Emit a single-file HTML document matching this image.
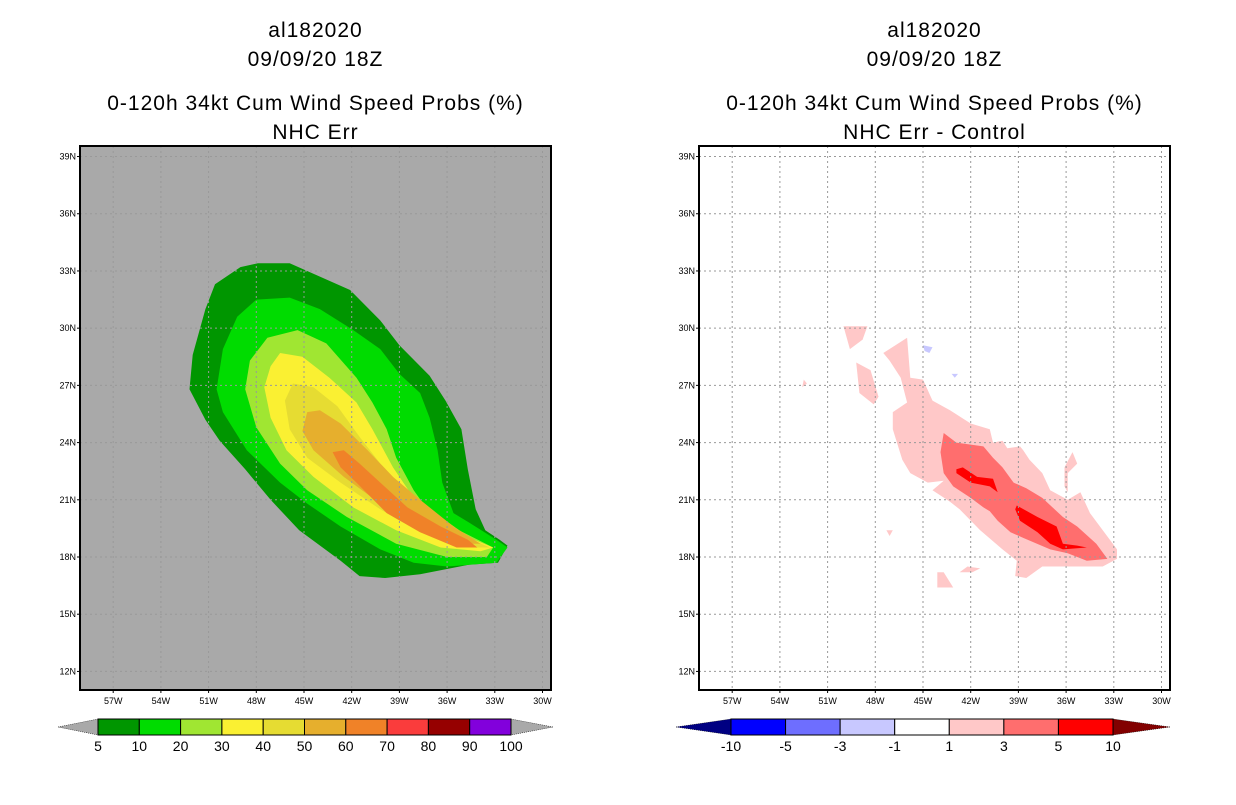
<!DOCTYPE html>
<html><head><meta charset="utf-8"><style>
body{margin:0;background:#fff;}
svg text{font-family:"Liberation Sans",sans-serif;fill:#000;}
</style></head><body>
<svg id="c" width="1236" height="800" viewBox="0 0 1236 800" xmlns="http://www.w3.org/2000/svg"></svg>
<script>
const latTicks=[39,36,33,30,27,24,21,18,15,12];
const lonTicks=[-57,-54,-51,-48,-45,-42,-39,-36,-33,-30];
const leftLevels=["5","10","20","30","40","50","60","70","80","90","100"];
const leftColors=["#009600","#00dc00","#a0e632","#faf032","#e6dc32","#e6af2d","#f08228","#fa3c3c","#960000","#8200dc"];
const rightLevels=["-10","-5","-3","-1","1","3","5","10"];
const rightColors=["#0000ff","#6e6eff","#c8c8ff","#ffffff","#ffc8c8","#ff6e6e","#ff0000"];
const p5=[[-47.9,33.4],[-45.9,33.4],[-42.1,32.0],[-40.2,30.4],[-39.0,29.1],[-37.1,27.5],[-36.1,26.2],[-35.1,24.7],[-34.7,22.6],[-34.2,20.5],[-33.6,19.4],[-32.7,18.9],[-32.2,18.6],[-32.8,17.7],[-34.6,17.6],[-37.7,17.1],[-39.9,16.9],[-41.5,17.0],[-42.7,17.8],[-45.3,19.4],[-47.1,21.0],[-48.7,22.6],[-50.3,24.1],[-51.2,25.2],[-52.2,26.8],[-52.0,28.6],[-51.2,31.0],[-50.6,32.3],[-49.0,33.2]];
const p10=[[-48.0,31.5],[-45.9,31.6],[-44.0,31.0],[-41.9,29.9],[-40.2,28.9],[-39.0,27.6],[-37.7,26.6],[-37.1,25.3],[-36.6,23.6],[-36.3,21.9],[-35.6,20.3],[-34.6,19.8],[-32.9,18.9],[-32.2,18.5],[-32.9,17.7],[-36.0,17.5],[-38.1,17.7],[-40.2,18.4],[-42.7,19.6],[-44.8,20.8],[-46.5,21.9],[-48.6,23.6],[-50.1,25.6],[-50.5,26.8],[-50.1,28.9],[-49.2,30.6]];
const p20=[[-45.4,29.9],[-43.6,29.2],[-41.7,27.4],[-40.7,26.1],[-39.8,24.7],[-39.2,23.2],[-38.1,21.5],[-36.9,20.1],[-35.0,19.3],[-33.1,18.5],[-33.5,18.0],[-36.0,18.0],[-39.2,18.7],[-42.3,20.1],[-44.8,21.5],[-46.5,22.9],[-48.0,24.8],[-48.7,26.8],[-48.4,28.3],[-47.3,29.5]];
const p30=[[-46.5,28.7],[-45.1,28.5],[-43.4,27.4],[-41.7,26.1],[-40.7,24.7],[-39.4,22.7],[-38.1,21.1],[-36.4,19.9],[-34.6,19.0],[-33.1,18.5],[-33.9,18.3],[-36.4,18.5],[-39.2,19.4],[-41.9,20.6],[-44.4,22.2],[-46.1,23.6],[-47.1,25.3],[-47.5,26.9],[-47.1,28.0]];
const p40=[[-45.7,27.1],[-44.4,26.9],[-42.9,25.9],[-41.5,24.3],[-40.2,22.9],[-38.5,21.4],[-36.4,20.1],[-34.4,18.9],[-33.3,18.5],[-35.0,18.5],[-37.7,19.3],[-40.2,20.5],[-42.7,21.9],[-44.8,23.2],[-45.9,24.7],[-46.2,26.2]];
const p50=[[-44.8,25.6],[-44.0,25.7],[-42.7,25.0],[-41.0,23.6],[-39.4,22.2],[-37.7,21.0],[-35.6,19.6],[-33.9,18.7],[-35.4,18.7],[-37.7,19.4],[-40.2,20.8],[-42.5,22.2],[-44.4,23.6],[-45.1,24.6]];
const p60=[[-43.2,23.5],[-42.5,23.6],[-41.5,22.9],[-40.2,21.9],[-38.5,20.6],[-36.4,19.6],[-34.7,18.9],[-34.1,18.5],[-35.4,18.5],[-37.7,19.3],[-39.8,20.3],[-41.7,21.9],[-42.7,22.7]];
const d1main=[[-47.5,28.7],[-46.0,29.5],[-45.8,27.4],[-45.0,27.3],[-44.4,26.2],[-43.3,25.7],[-42.0,25.0],[-40.8,24.7],[-40.6,24.0],[-40.0,24.1],[-39.7,23.7],[-38.9,23.8],[-38.7,23.6],[-38.3,23.1],[-37.5,22.4],[-37.0,21.5],[-35.9,21.0],[-35.1,21.4],[-34.5,20.3],[-32.8,18.4],[-32.8,17.9],[-33.7,17.5],[-37.5,17.5],[-38.5,16.9],[-39.2,17.0],[-39.1,17.8],[-40.0,18.4],[-41.4,19.4],[-42.7,20.5],[-43.3,20.9],[-44.4,21.5],[-43.7,22.0],[-44.7,21.9],[-45.8,22.4],[-46.3,23.1],[-46.9,24.7],[-46.9,25.6],[-46.0,26.1],[-46.4,27.4],[-47.1,28.3]];
const d1a=[[-50.0,30.1],[-48.5,30.1],[-48.8,29.4],[-49.6,28.9]];
const d1b=[[-49.2,28.2],[-48.3,27.8],[-47.8,26.4],[-48.1,26.0],[-49.0,26.6]];
const d1c=[[-35.6,23.5],[-35.3,22.9],[-35.9,22.4],[-35.9,21.4],[-36.1,21.7],[-36.1,22.7]];
const d1d=[[-44.1,17.2],[-43.7,17.2],[-43.1,16.4],[-44.1,16.4]];
const d1e=[[-47.3,19.4],[-46.9,19.4],[-47.1,19.1]];
const d1f=[[-42.2,17.5],[-41.4,17.4],[-41.9,17.2],[-42.7,17.2]];
const d1g=[[-52.5,27.3],[-52.3,27.1],[-52.6,26.9]];
const dneg=[[-45.0,29.1],[-44.4,29.0],[-44.6,28.7],[-44.9,28.8]];
const dneg2=[[-43.2,27.6],[-42.8,27.6],[-43.0,27.4]];
const d3=[[-43.7,24.5],[-42.9,24.0],[-41.2,23.8],[-40.6,23.2],[-40.0,22.7],[-39.3,21.9],[-38.5,21.6],[-37.5,21.1],[-36.2,20.1],[-35.3,19.6],[-34.1,18.7],[-33.4,17.9],[-34.7,17.8],[-35.9,18.2],[-37.0,18.4],[-38.7,19.0],[-39.5,19.3],[-40.3,19.9],[-40.8,20.4],[-41.2,20.6],[-42.0,21.1],[-43.1,21.7],[-43.7,22.4],[-43.9,23.5]];
const d5a=[[-42.9,22.6],[-42.5,22.7],[-41.6,22.2],[-40.6,22.1],[-40.3,21.4],[-40.8,21.7],[-42.0,21.9],[-42.9,22.4]];
const d5b=[[-39.1,20.7],[-37.8,20.1],[-36.6,19.6],[-36.2,18.7],[-35.3,18.6],[-34.7,18.5],[-36.2,18.4],[-37.0,18.7],[-37.8,19.3],[-38.9,19.9],[-39.2,20.5]];

const svg=document.getElementById('c');const NS='http://www.w3.org/2000/svg';
function mk(tag,attrs,parent,txt){const e=document.createElementNS(NS,tag);for(const k in attrs)e.setAttribute(k,attrs[k]);if(txt!==undefined)e.textContent=txt;(parent||svg).appendChild(e);return e;}
function panel(ox,bg,polys,titles,name){
  const g=mk('g',{});
  
  
  const X=lon=>ox+304-80+(lon+45)*15.9;
  const Y=lat=>557-(lat-18)*19.07;
  const L=ox,R=ox+471,T=146,B=690;
  const bgr=mk('rect',{x:L,y:T,width:R-L,height:B-T,fill:bg},g);
  
  
  polys.forEach(([pts,col,nm])=>{
    const p=mk('polygon',{points:pts.map(q=>X(q[0]).toFixed(1)+','+Y(q[1]).toFixed(1)).join(' '),fill:col},g);
    
    
  });
  latTicks.forEach(t=>{const y=Y(t);
    mk('line',{x1:L,x2:R,y1:y,y2:y,stroke:'#999','stroke-dasharray':'2,3','stroke-width':1},g);
    mk('line',{x1:L-3,x2:L,y1:y,y2:y,stroke:'#000'},g);
    const tx=mk('text',{x:L-4,y:y+3,'font-size':9,'text-anchor':'end'},g,t+'N');
    
    });
  lonTicks.forEach(t=>{const x=X(t);
    mk('line',{x1:x,x2:x,y1:T,y2:B,stroke:'#999','stroke-dasharray':'2,3','stroke-width':1},g);
    mk('line',{x1:x,x2:x,y1:B,y2:B+3,stroke:'#000'},g);
    const tx=mk('text',{x:x,y:B+14,'font-size':9,'text-anchor':'middle'},g,(-t)+'W');
    
    });
  const fr=mk('rect',{x:L,y:T,width:R-L,height:B-T,fill:'none',stroke:'#000','stroke-width':2},g);
  
  
  const cx=(L+R)/2;
  [[titles[0],37],[titles[1],66],[titles[2],110],[titles[3],139]].forEach(([s,y])=>{
    const t=mk('text',{x:cx,y:y,'font-size':21,'text-anchor':'middle','letter-spacing':'1'},g,s);
    
    });
  return {X,Y,g};
}
const left=panel(80,'#a9a9a9',[[p5,leftColors[0],'contour-5'],[p10,leftColors[1],'contour-10'],[p20,leftColors[2],'contour-20'],[p30,leftColors[3],'contour-30'],[p40,leftColors[4],'contour-40'],[p50,leftColors[5],'contour-50'],[p60,leftColors[6],'contour-60']],["al182020","09/09/20 18Z","0-120h 34kt Cum Wind Speed Probs (%)","NHC Err"],'left-panel');
const right=panel(699,'#ffffff',[[d1main,'#ffc8c8','diff-1-main'],[d1a,'#ffc8c8','diff-1'],[d1b,'#ffc8c8','diff-1'],[d1c,'#ffc8c8','diff-1'],[d1d,'#ffc8c8','diff-1'],[d1e,'#ffc8c8','diff-1'],[d1f,'#ffc8c8','diff-1'],[d1g,'#ffc8c8','diff-1'],[dneg,'#c8c8ff','diff-neg'],[dneg2,'#c8c8ff','diff-neg'],[d3,'#ff6e6e','diff-3'],[d5a,'#ff0000','diff-5'],[d5b,'#ff0000','diff-5']],["al182020","09/09/20 18Z","0-120h 34kt Cum Wind Speed Probs (%)","NHC Err - Control"],'right-panel');

function colorbar(x0,x1,tl,tr,colors,labels,lc,rc,name){
  const g=mk('g',{});
  
  
  const y0=719,y1=735,ym=727,w=(x1-x0)/colors.length;
  mk('polygon',{points:`${tl},${ym} ${x0},${y0} ${x0},${y1}`,fill:lc,stroke:'#000','stroke-width':0.5,'stroke-dasharray':'1,1'},g);
  mk('polygon',{points:`${tr},${ym} ${x1},${y0} ${x1},${y1}`,fill:rc,stroke:'#000','stroke-width':0.5,'stroke-dasharray':'1,1'},g);
  colors.forEach((c,i)=>{const r=mk('rect',{x:x0+i*w,y:y0,width:w,height:y1-y0,fill:c,stroke:'#000','stroke-width':1},g);
    
    });
  labels.forEach((s,i)=>{const t=mk('text',{x:x0+i*w,y:751,'font-size':14,'text-anchor':'middle'},g,s);
    
    });
}
colorbar(98,511,58,553,leftColors,leftLevels,'#a9a9a9','#a9a9a9','left-colorbar');
colorbar(731,1113,676,1170,rightColors,rightLevels,'#000082','#820000','right-colorbar');
</script>
</body></html>
